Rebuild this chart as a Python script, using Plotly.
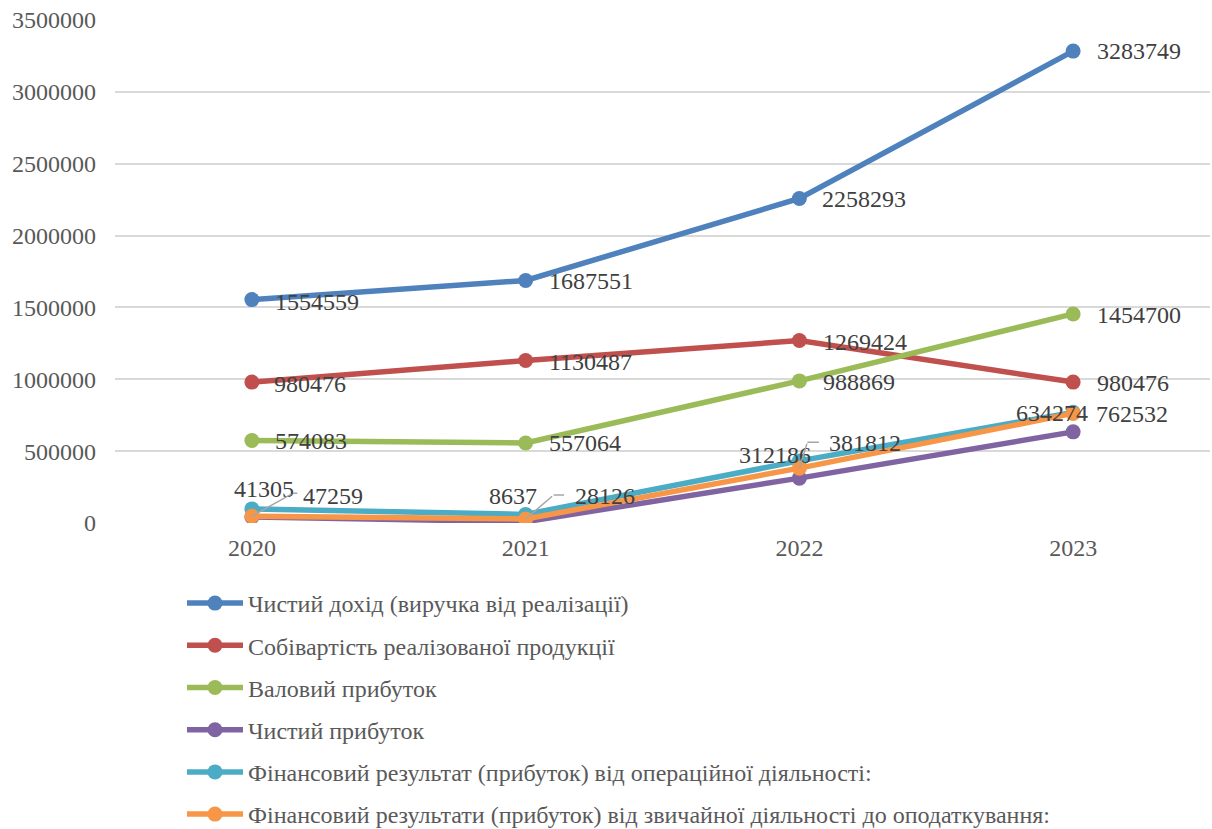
import plotly.graph_objects as go

years = ["2020", "2021", "2022", "2023"]

names = [
    "Чистий дохід (виручка від реалізації)",
    "Собівартість реалізованої продукції",
    "Валовий прибуток",
    "Чистий прибуток",
    "Фінансовий результат (прибуток) від операційної діяльності:",
    "Фінансовий результати (прибуток) від звичайної діяльності до оподаткування:",
]

net_revenue = [1554559, 1687551, 2258293, 3283749]
cost_of_sales = [980476, 1130487, 1269424, 980476]
gross_profit = [574083, 557064, 988869, 1454700]
net_profit = [41305, 8637, 312186, 634274]
operating_result = [98000, 60000, 432000, 770000]
pretax_result = [47259, 28126, 381812, 762532]

series = [net_revenue, cost_of_sales, gross_profit, net_profit, operating_result, pretax_result]
colors = ["#4F81BD", "#C0504D", "#9BBB59", "#8064A2", "#4BACC6", "#F79646"]

FONT = "Times New Roman"
LABEL_FONT = dict(family=FONT, size=24, color="#404040")
LEADER = "#A6A6A6"

fig = go.Figure()
for i, (nm, vals, col) in enumerate(zip(names, series, colors)):
    fig.add_trace(go.Scatter(
        x=years, y=vals, name=nm, mode="lines+markers",
        line=dict(color=col, width=5.5),
        marker=dict(color=col, size=15),
        legendgroup=f"g{i}",
        hoverinfo="skip",
    ))

# data labels to the right of the points (first three series)
right_shift = {
    0: [(21, -2), (21, -1), (21, -1), (22, 0)],
    1: [(20, -2), (21, -1), (22, -1), (22, -1)],
    2: [(21, 0), (21, 0), (22, -1), (22, -1)],
}
for si, shifts in right_shift.items():
    for xi, v in enumerate(series[si]):
        fig.add_annotation(
            x=xi, y=v, text=str(v), showarrow=False,
            xanchor="left", yanchor="middle",
            xshift=shifts[xi][0], yshift=shifts[xi][1],
            font=LABEL_FONT,
        )

# net profit labels placed above / left of the points
np_shift = [(12, 28), (-13, 26), (-24, 23), (-21, 19)]
for xi, v in enumerate(net_profit):
    fig.add_annotation(
        x=xi, y=v, text=str(v), showarrow=False,
        xanchor="center", yanchor="middle",
        xshift=np_shift[xi][0], yshift=np_shift[xi][1],
        font=LABEL_FONT,
    )

# pre-tax result labels (label shift, elbow offset, horizontal leader length)
pt_label = [(49, 20), (47, 23), (28, 25), (21, -1)]
pt_elbow = [(41, -23), (28, -24), (8, -26), None]
pt_hlen = [6, 12, 13, 0]
for xi, v in enumerate(pretax_result):
    fig.add_annotation(
        x=xi, y=v, text=str(v), showarrow=False,
        xanchor="left", yanchor="middle",
        xshift=pt_label[xi][0], yshift=pt_label[xi][1],
        font=LABEL_FONT,
    )
    el = pt_elbow[xi]
    if el is not None:
        # diagonal leader from the point to the elbow
        fig.add_annotation(
            x=xi, y=v, text="", showarrow=True, ax=el[0], ay=el[1],
            arrowhead=0, arrowwidth=1.5, arrowcolor=LEADER, standoff=0,
        )
        # short horizontal leader from the elbow toward the label
        fig.add_annotation(
            x=xi, y=v, text="", showarrow=True, ax=pt_hlen[xi], ay=0,
            xshift=el[0], yshift=-el[1],
            arrowhead=0, arrowwidth=1.5, arrowcolor=LEADER, standoff=0,
        )

fig.update_layout(
    width=1212, height=829,
    margin=dict(l=115, r=2, t=20, b=306, autoexpand=False),
    paper_bgcolor="white", plot_bgcolor="white",
    font=dict(family=FONT, size=24, color="#595959"),
    showlegend=True,
    legend=dict(
        orientation="v",
        x=(182 - 115) / 1095, y=-(581 - 523) / 503,
        xanchor="left", yanchor="top",
        font=dict(family=FONT, size=24, color="#595959"),
        tracegroupgap=8,
        itemwidth=56,
        bgcolor="rgba(0,0,0,0)",
    ),
    xaxis=dict(
        type="category", range=[-0.5, 3.5],
        showgrid=False, showline=False, zeroline=False,
        ticks="", tickfont=dict(family=FONT, size=24, color="#595959"),
        tickangle=0, ticklabelstandoff=8,
    ),
    yaxis=dict(
        range=[0, 3500000], dtick=500000, tickformat="d",
        showgrid=True, gridcolor="#D9D9D9", gridwidth=1.5,
        zeroline=False, showline=False, ticks="",
        tickfont=dict(family=FONT, size=24, color="#595959"),
        ticklabelstandoff=18,
    ),
)

fig.write_html("out.html")
